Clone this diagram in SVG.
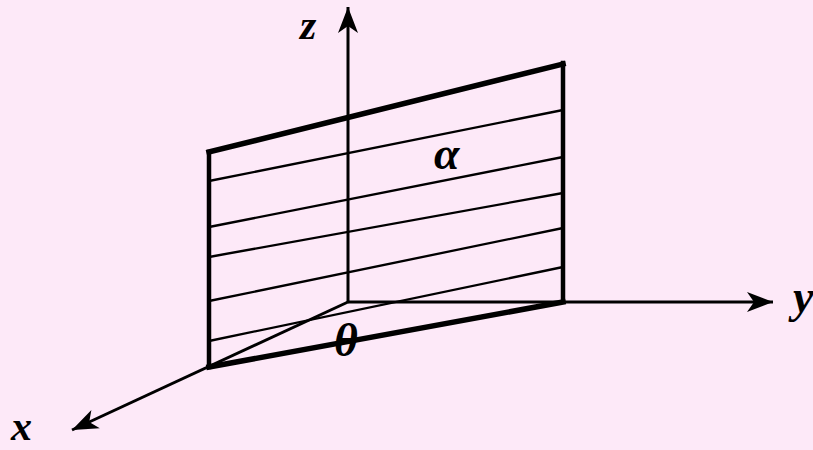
<svg xmlns="http://www.w3.org/2000/svg" width="813" height="450" viewBox="0 0 813 450">
<style>
.lbl{font-family:"Liberation Serif","Times New Roman",serif;font-weight:bold;font-style:italic;font-size:46px;fill:#000}
.sm{font-size:42px}
.ax{stroke:#000;stroke-width:3;fill:none}
.hatch{stroke:#000;stroke-width:2.3;fill:none}
.edge{stroke:#000;fill:none;stroke-linecap:square}
</style>
<defs>
<marker id="arr" markerUnits="userSpaceOnUse" markerWidth="30" markerHeight="24" refX="0" refY="0" viewBox="-27 -12 30 24" orient="auto" overflow="visible">
<path d="M0,0 L-26,-10 L-19,0 L-26,10 Z" fill="#000"/>
</marker>
</defs>
<rect width="813" height="450" fill="#FDE9F8"/>
<g id="connectors">
<line class="ax" x1="348" y1="302" x2="348" y2="7" marker-end="url(#arr)"/>
<line class="ax" x1="348" y1="302" x2="773" y2="302" marker-end="url(#arr)"/>
<line class="ax" x1="348" y1="302" x2="72" y2="430" marker-end="url(#arr)"/>
</g>
<g id="plane">
<line class="hatch" x1="209" y1="181" x2="563" y2="110"/>
<line class="hatch" x1="209" y1="227" x2="563" y2="157"/>
<line class="hatch" x1="209" y1="257" x2="563" y2="193"/>
<line class="hatch" x1="209" y1="301" x2="563" y2="228"/>
<line class="hatch" x1="209" y1="341" x2="563" y2="267"/>
<line class="edge" x1="209" y1="152" x2="209" y2="367" stroke-width="4.5"/>
<line class="edge" x1="563" y1="63" x2="563" y2="301" stroke-width="4.5"/>
<line class="edge" x1="209" y1="152" x2="563" y2="64" stroke-width="5.5"/>
<line class="edge" x1="209" y1="367" x2="563" y2="302" stroke-width="5.5"/>
</g>
<g id="labels">
<text class="lbl sm" x="300" y="39">z</text>
<text class="lbl" x="434" y="169">α</text>
<text class="lbl" x="334" y="356">θ</text>
<text class="lbl sm" x="11" y="440">x</text>
<text class="lbl" x="793" y="312">y</text>
</g>
</svg>
